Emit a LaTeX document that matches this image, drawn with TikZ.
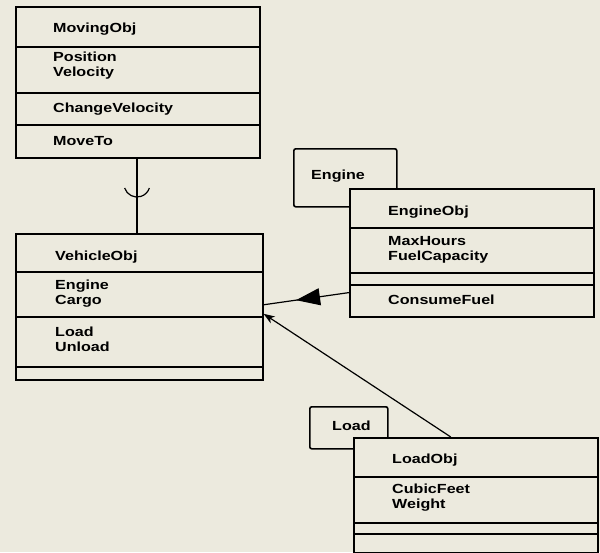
\documentclass[tikz,border=0pt]{standalone}
\usepackage{fontspec}
\newfontfamily\umlfont[FakeStretch=1.22]{Liberation Sans}
\usetikzlibrary{arrows.meta,decorations.markings}
\definecolor{paper}{RGB}{236,234,222}
\tikzset{
  umlbox/.style={draw=black, fill=paper, line width=1.6pt, inner sep=0pt, anchor=north west},
  smallbox/.style={draw=black, fill=paper, line width=1.6pt, inner sep=0pt, anchor=north west, rounded corners=2pt},
  divider/.style={line width=1.6pt},
  umltext/.style={anchor=west, inner sep=0pt, align=left, font=\umlfont\bfseries\fontsize{13.2}{15}\selectfont},
  conn/.style={line width=1.2pt}
}
\begin{document}
\begin{tikzpicture}[x=1pt,y=-1pt]
\fill[paper] (0,0) rectangle (600,552);
\useasboundingbox (0,0) rectangle (600,552);

% MovingObj
\node[umlbox, minimum width=244pt, minimum height=151pt] (moving) at (15,6) {};
\draw[divider] (15,47) -- (259,47);
\draw[divider] (15,93) -- (259,93);
\draw[divider] (15,125) -- (259,125);
\node[umltext] (mtitle) at (53,29) {MovingObj};
\node[umltext] (mattr) at (53,65.5) {Position\\Velocity};
\node[umltext] (mop1) at (53,109) {ChangeVelocity};
\node[umltext] (mop2) at (53,141) {MoveTo};

% VehicleObj
\node[umlbox, minimum width=247pt, minimum height=146pt] (vehicle) at (15,233) {};
\draw[divider] (15,272) -- (262,272);
\draw[divider] (15,317) -- (262,317);
\draw[divider] (15,367) -- (262,367);
\node[umltext] (vtitle) at (55,257) {VehicleObj};
\node[umltext] (vattr) at (55,293.5) {Engine\\Cargo};
\node[umltext] (vop) at (55,339.5) {Load\\Unload};

% Engine small box and EngineObj
\node[smallbox, minimum width=103pt, minimum height=58pt] (engine) at (293,148) {};
\node[umltext] (etag) at (311,176) {Engine};
\node[umlbox, minimum width=244pt, minimum height=128pt] (engineobj) at (349,188) {};
\draw[divider] (349,228) -- (593,228);
\draw[divider] (349,273) -- (593,273);
\draw[divider] (349,285) -- (593,285);
\node[umltext] (etitle) at (388,212) {EngineObj};
\node[umltext] (eattr) at (388,249.5) {MaxHours\\FuelCapacity};
\node[umltext] (eop) at (388,300) {ConsumeFuel};

% Load small box and LoadObj
\node[smallbox, minimum width=78pt, minimum height=42pt] (load) at (309,406) {};
\node[umltext] (ltag) at (332,426) {Load};
\node[umlbox, minimum width=244pt, minimum height=115pt] (loadobj) at (353,437) {};
\draw[divider] (353,477) -- (597,477);
\draw[divider] (353,523) -- (597,523);
\draw[divider] (353,534) -- (597,534);
\node[umltext] (ltitle) at (392,460) {LoadObj};
\node[umltext] (lattr) at (392,497.5) {CubicFeet\\Weight};

% connectors
\coordinate (cup) at (137,184);
\draw[conn] (moving.south -| cup) -- (vehicle.north -| cup);
\draw[conn] ([shift={(198:13pt)}]cup) arc[start angle=198, end angle=342, radius=13pt];

\coordinate (esrc) at ([yshift=25pt]engineobj.south west);
\coordinate (etgt) at ([yshift=2pt]vehicle.east);
\draw[conn, postaction={decorate}, decoration={markings,
  mark=at position 0.62 with {\arrow{Triangle[length=24pt,width=17pt]}}}]
  (esrc) -- (etgt);

\coordinate (lsrc) at ([xshift=-25pt]loadobj.north);
\coordinate (ltgt) at ([yshift=-7pt]vehicle.east);
\draw[conn, -{Stealth[length=11pt,width=8pt,inset=3pt]}] (lsrc) -- (ltgt);
\end{tikzpicture}
\end{document}
